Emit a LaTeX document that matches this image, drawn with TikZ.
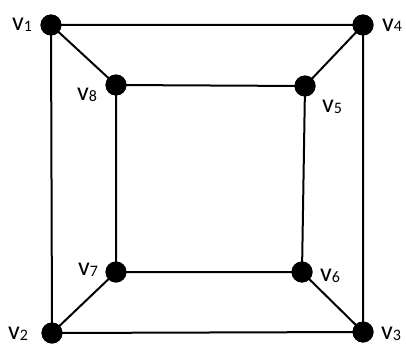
\documentclass[tikz,border=0pt]{standalone}
\usepackage{fontspec}
\setmainfont{Carlito}
\tikzset{
  vdot/.style={circle,fill=black,inner sep=0pt,minimum size=21pt},
  edge/.style={line width=2pt,black},
  vlab/.style={anchor=base west,inner sep=0pt,font=\fontsize{26}{26}\selectfont}
}
\newcommand{\vl}[1]{v\raisebox{-1pt}{\fontsize{16}{16}\selectfont #1}}
\begin{document}
\begin{tikzpicture}[x=1pt,y=-1pt]
\useasboundingbox (0,0) rectangle (406,345);
\node[vdot] (v1) at (51,25) {};
\node[vdot] (v4) at (363,25) {};
\node[vdot] (v2) at (52,333) {};
\node[vdot] (v3) at (363,332) {};
\node[vdot] (v8) at (116,85) {};
\node[vdot] (v5) at (305,86) {};
\node[vdot] (v7) at (116,272) {};
\node[vdot] (v6) at (302,272) {};
\draw[edge] (v1.center) -- (v4.center) -- (v3.center) -- (v2.center) -- cycle;
\draw[edge] (v8.center) -- (v5.center) -- (v6.center) -- (v7.center) -- cycle;
\draw[edge] (v1.center) -- (v8.center);
\draw[edge] (v4.center) -- (v5.center);
\draw[edge] (v3.center) -- (v6.center);
\draw[edge] (v2.center) -- (v7.center);
\foreach \n in {v1,v2,v3,v4,v5,v6,v7,v8} \fill (\n) circle (10.5pt);
\node[vlab] (l1) at (12,30.5) {\vl{1}};
\node[vlab] (l8) at (77,100) {\vl{8}};
\node[vlab] (l4) at (382,31) {\vl{4}};
\node[vlab] (l5) at (322,112) {\vl{5}};
\node[vlab] (l7) at (78,275) {\vl{7}};
\node[vlab] (l2) at (8,339) {\vl{2}};
\node[vlab] (l6) at (320,281) {\vl{6}};
\node[vlab] (l3) at (381,339) {\vl{3}};
\end{tikzpicture}
\end{document}
